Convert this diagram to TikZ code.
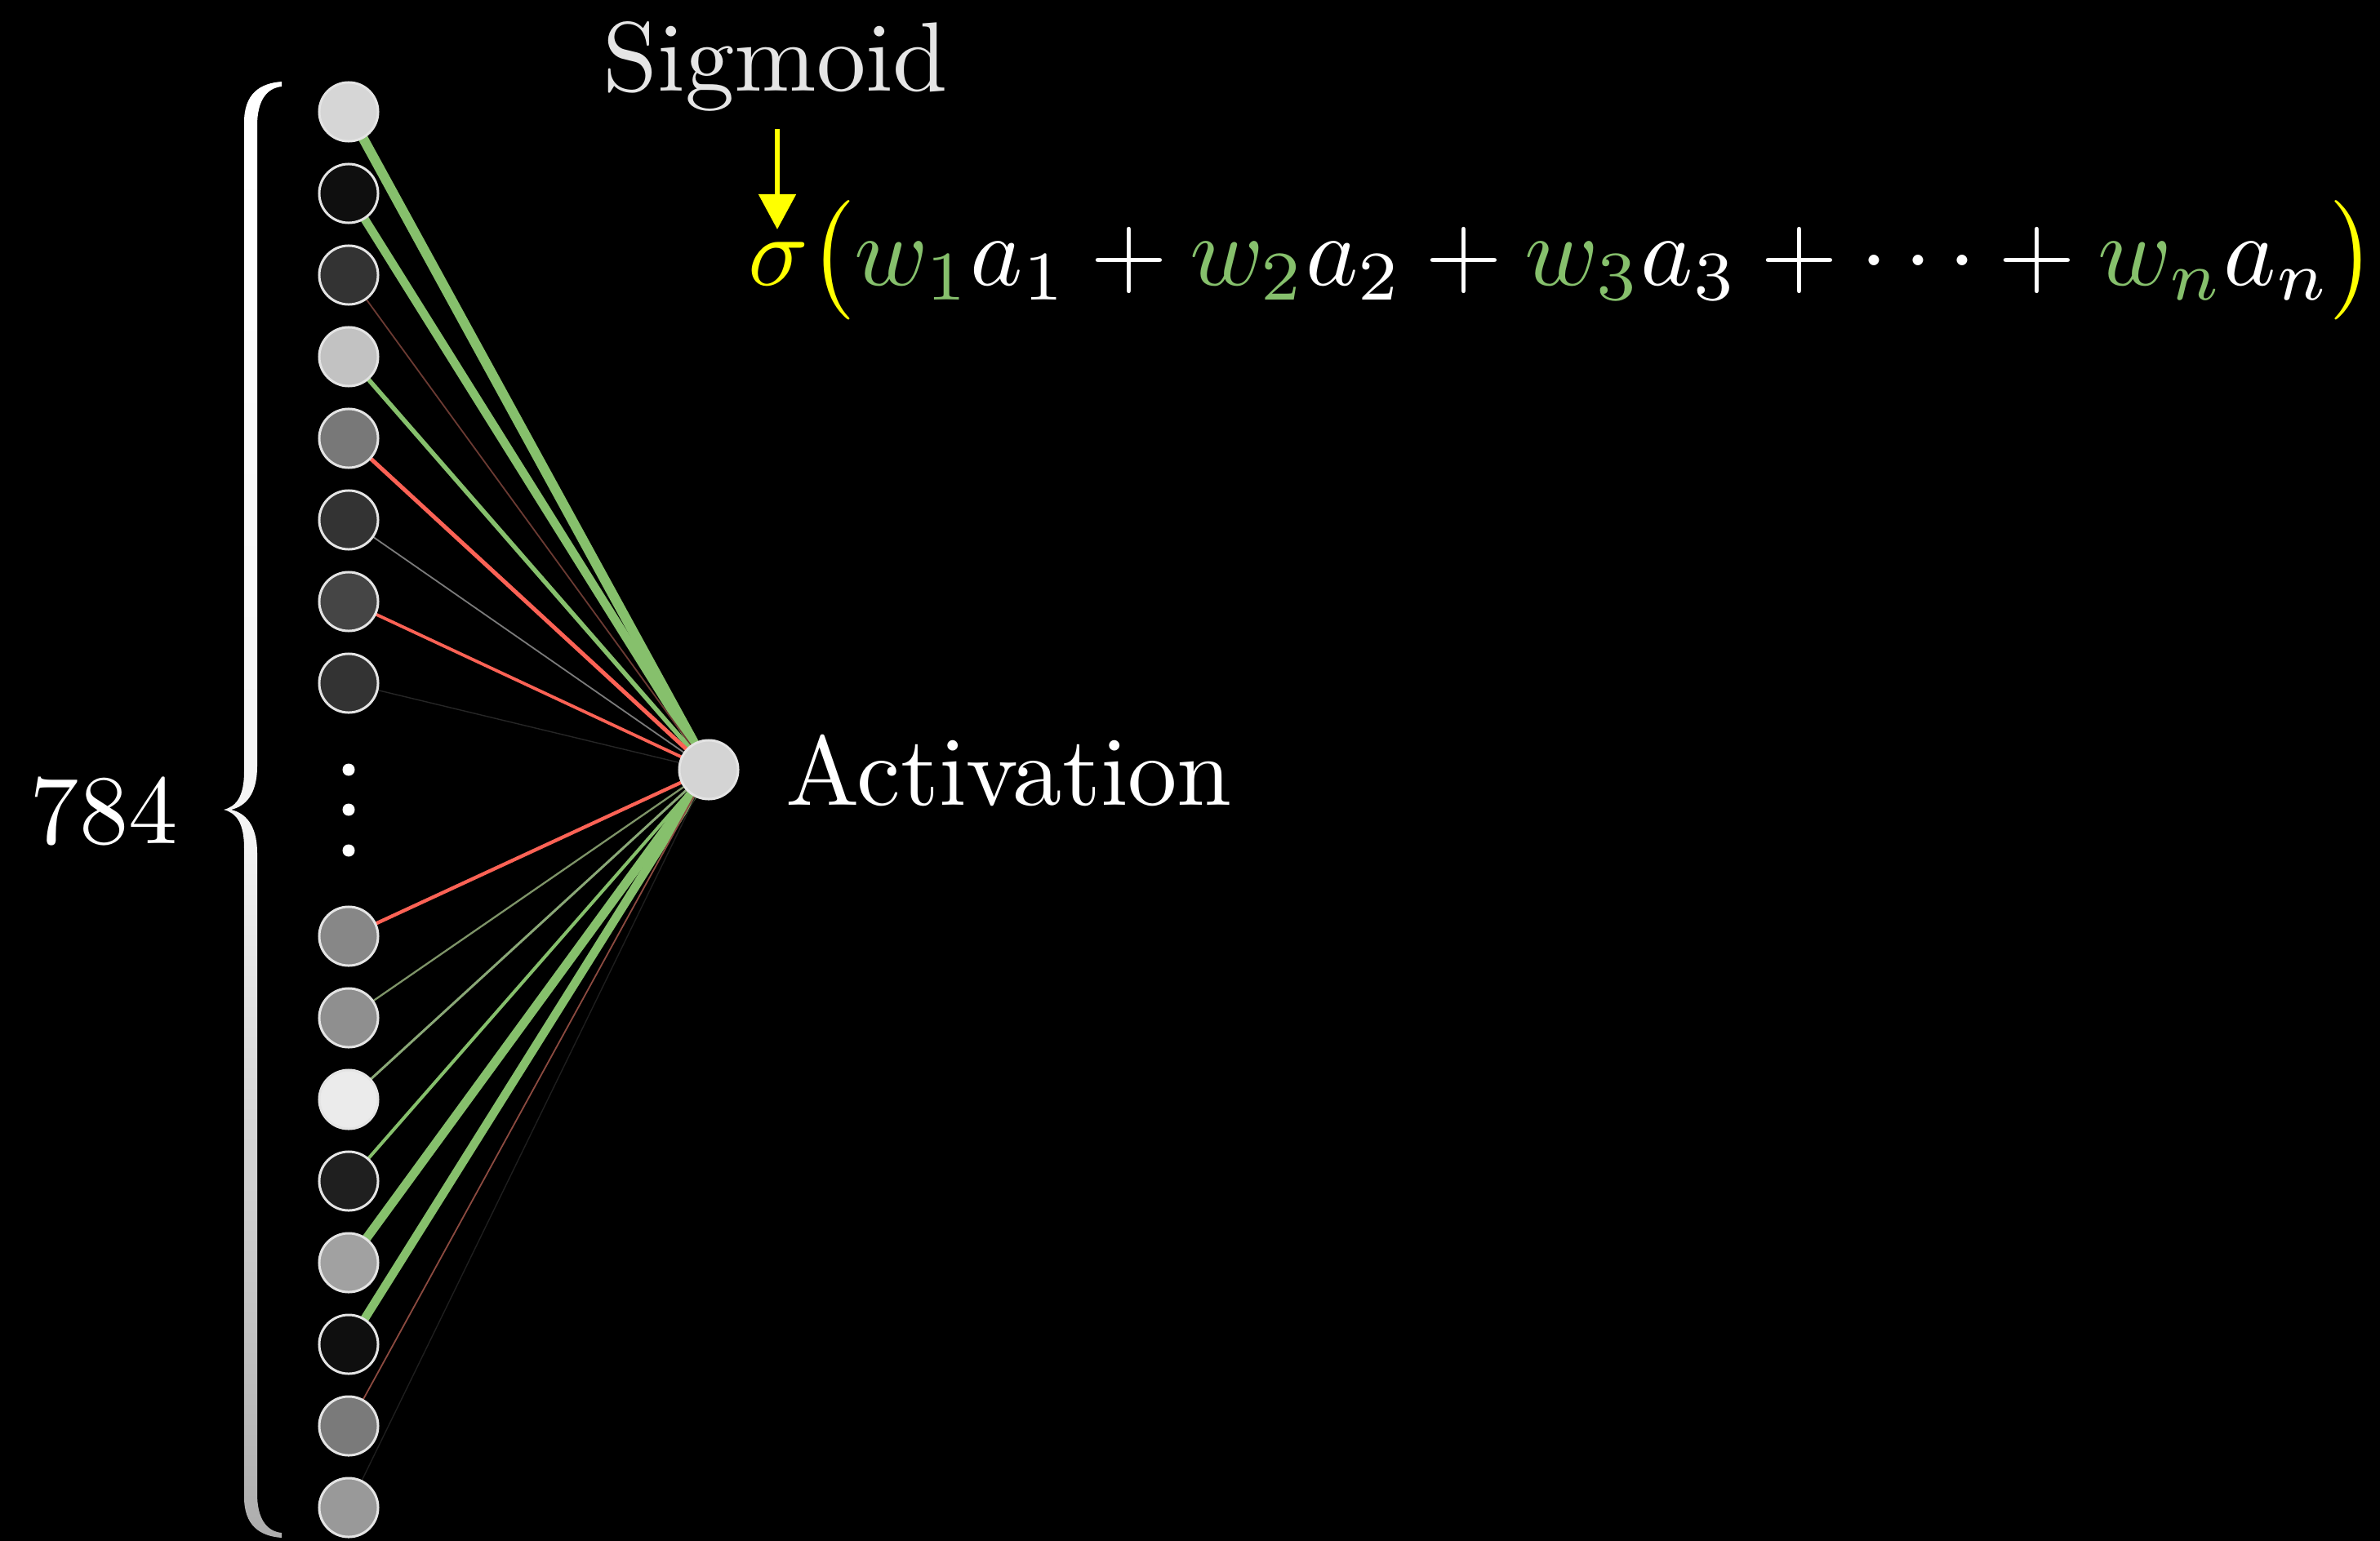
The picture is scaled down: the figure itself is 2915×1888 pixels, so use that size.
\RequirePackage{fix-cm}
\documentclass[tikz,border=0pt]{standalone}
\usetikzlibrary{arrows.meta}
\definecolor{grn}{HTML}{86C06C}
\definecolor{rd}{HTML}{FC6255}
\definecolor{yl}{HTML}{FFFF00}
\definecolor{nborder}{HTML}{E4E4E4}
\definecolor{ethree}{HTML}{6B3A32}
\definecolor{esix}{HTML}{7A7A7A}
\definecolor{eeight}{HTML}{262626}
\definecolor{eten}{HTML}{7E9468}
\definecolor{eeleven}{HTML}{8AA877}
\definecolor{efifteen}{HTML}{8C4A40}
\definecolor{esixteen}{HTML}{1E1E1E}
\pgfdeclarelayer{bglayer}
\pgfdeclarelayer{edgelayer}
\pgfsetlayers{bglayer,edgelayer,main}
\newcommand{\bigtext}[1]{\scalebox{3.43}{#1}}
\begin{document}
\begin{tikzpicture}[x=0.01cm,y=-0.01cm,
  neuron/.style={circle, draw=nborder, line width=0.85pt, minimum size=0.72cm, inner sep=0pt},
  dotnode/.style={circle, fill=white, minimum size=0.15cm, inner sep=0pt},
  lbl/.style={text=white, inner sep=0pt},
  conn/.style={line cap=butt},
]
\begin{pgfonlayer}{bglayer}
\fill[black] (0,0) rectangle (2915,1888);
\end{pgfonlayer}
\useasboundingbox (0,0) rectangle (2915,1888);

% input neurons
\foreach \i/\y/\p in {1/137/84, 2/237/6, 3/337/20, 4/437/76, 5/537/47, 6/637/20, 7/737/27, 8/837/20,
                      9/1147/53, 10/1247/56, 11/1347/92, 12/1447/12, 13/1547/63, 14/1647/6, 15/1747/48, 16/1847/60}
  \node[neuron, fill=white!\p!black] (n\i) at (427,\y) {};

% ellipsis dots
\node[dotnode] (d1) at (427,943) {};
\node[dotnode] (d2) at (427,992) {};
\node[dotnode] (d3) at (427,1042) {};

% activation neuron
\node[neuron, fill=white!83!black] (act) at (868,943) {};

% connectors
\begin{pgfonlayer}{edgelayer}
\foreach \i/\col/\w in {1/grn/12, 2/grn/10.5, 3/ethree/1.8, 4/grn/5.5, 5/rd/5, 6/esix/1.8, 7/rd/3.8, 8/eeight/1.4,
                        9/rd/4.3, 10/eten/2.3, 11/eeleven/3, 12/grn/4, 13/grn/11, 14/grn/10.5, 15/efifteen/1.8, 16/esixteen/1.4}
  \draw[conn, draw=\col, line width=\w*0.2845pt] (n\i.center) -- (act.center);
\end{pgfonlayer}

% brace
\shade[top color=white, bottom color=white!68!black, middle color=white!96!black]
  (345,100) .. controls (318,102) and (299,115) .. (299,150)
  -- (299,945)
  .. controls (299,975) and (290,988) .. (274,992)
  .. controls (290,996) and (299,1009) .. (299,1039)
  -- (299,1834)
  .. controls (299,1869) and (318,1882) .. (345,1884)
  -- (345,1878)
  .. controls (326,1876) and (315,1860) .. (315,1830)
  -- (315,1045)
  .. controls (315,1010) and (300,996) .. (283,992)
  .. controls (300,988) and (315,974) .. (315,939)
  -- (315,154)
  .. controls (315,124) and (326,108) .. (345,106)
  -- cycle;

% labels
\node[lbl, anchor=base west] (count) at (36,1033) {\bigtext{784}};
\node[lbl, anchor=base west] (actlbl) at (962,986) {\bigtext{Activation}};
\node[lbl, anchor=base west, text=white!90!black] (sig) at (738,112) {\bigtext{Sigmoid}};

% formula
\node[inner sep=0pt, anchor=base west, text=white] (formula) at (916,349)
  {\scalebox{3.47}{$\color{yl}\sigma\bigl(\color{grn}w_1\color{white}a_1+\color{grn}w_2\color{white}a_2+\color{grn}w_3\color{white}a_3+\cdots+\color{grn}w_n\color{white}a_n\color{yl}\bigr)$}};

% sigmoid arrow
\coordinate (arrtop) at (952,158);
\coordinate (arrend) at (952,281);
\draw[yl, line width=1.45pt, -{Triangle[width=0.45cm,length=0.43cm]}] (arrtop) -- (arrend);
\end{tikzpicture}
\end{document}
